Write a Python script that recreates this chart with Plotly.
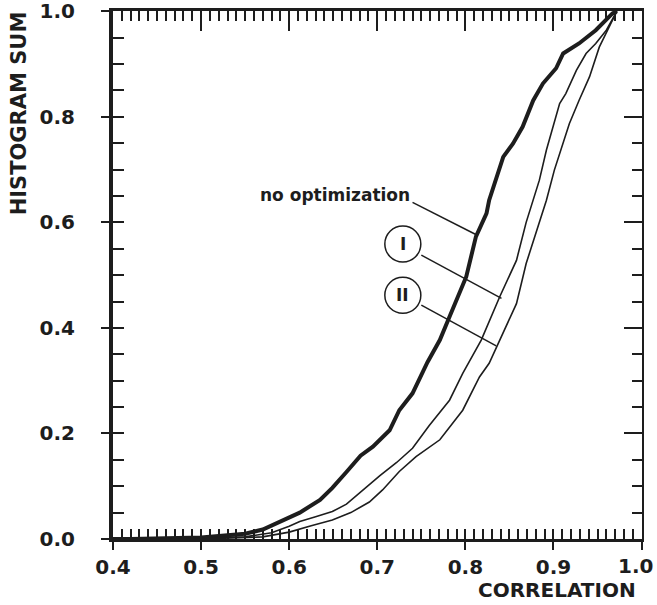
import plotly.graph_objects as go

# Cumulative histogram sums vs. correlation for three processing variants
x_noopt = [0.40, 0.42, 0.50, 0.55, 0.57, 0.585, 0.60, 0.612, 0.635, 0.649, 0.665, 0.681,
           0.695, 0.703, 0.714, 0.725, 0.740, 0.757, 0.771, 0.782, 0.801, 0.812, 0.824,
           0.827, 0.837, 0.843, 0.854, 0.865, 0.877, 0.888, 0.903, 0.911, 0.929, 0.948,
           0.967, 0.972]
y_noopt = [0.0, 0.0, 0.003, 0.010, 0.018, 0.030, 0.040, 0.050, 0.074, 0.097, 0.127, 0.158,
           0.175, 0.188, 0.206, 0.244, 0.276, 0.335, 0.377, 0.421, 0.497, 0.573, 0.617,
           0.642, 0.690, 0.724, 0.749, 0.781, 0.831, 0.863, 0.892, 0.920, 0.939, 0.964,
           0.996, 1.0]

x_opt1 = [0.40, 0.45, 0.55, 0.58, 0.60, 0.612, 0.630, 0.649, 0.665, 0.683, 0.703, 0.722,
          0.740, 0.759, 0.782, 0.797, 0.818, 0.839, 0.858, 0.869, 0.877, 0.884, 0.892,
          0.907, 0.914, 0.926, 0.937, 0.948, 0.960, 0.972]
y_opt1 = [0.0, 0.0, 0.004, 0.012, 0.024, 0.033, 0.042, 0.052, 0.066, 0.092, 0.120, 0.145,
          0.172, 0.215, 0.263, 0.314, 0.377, 0.459, 0.528, 0.600, 0.642, 0.680, 0.737,
          0.825, 0.844, 0.888, 0.920, 0.939, 0.964, 1.0]

x_opt2 = [0.40, 0.50, 0.57, 0.60, 0.625, 0.649, 0.670, 0.691, 0.706, 0.725, 0.744, 0.771,
          0.797, 0.816, 0.827, 0.839, 0.858, 0.869, 0.884, 0.892, 0.901, 0.907, 0.918,
          0.929, 0.941, 0.952, 0.960, 0.972]
y_opt2 = [0.0, 0.0, 0.004, 0.013, 0.025, 0.036, 0.050, 0.070, 0.093, 0.128, 0.156, 0.188,
          0.244, 0.307, 0.333, 0.377, 0.446, 0.522, 0.598, 0.642, 0.699, 0.730, 0.787,
          0.831, 0.876, 0.932, 0.958, 1.0]

x_ticks = [0.4, 0.5, 0.6, 0.7, 0.8, 0.9, 1.0]
y_ticks = [0.0, 0.2, 0.4, 0.6, 0.8, 1.0]
# the last x label sits at the right edge, so it is placed separately
x_ticktext = [f"{v:.1f}" for v in x_ticks[:-1]] + [""]
x_last_label = f"{x_ticks[-1]:.1f}"

X_RANGE = [0.4, 1.0005]
Y_RANGE = [0.0, 1.0005]

INK = "#1d1d1d"
FONT = "DejaVu Sans"
TICKFONT = dict(family=FONT, size=20, color=INK, weight="bold")

fig = go.Figure()
fig.add_trace(go.Scatter(x=x_noopt, y=y_noopt, mode="lines",
                         line=dict(color=INK, width=4), showlegend=False))
fig.add_trace(go.Scatter(x=x_opt1, y=y_opt1, mode="lines",
                         line=dict(color=INK, width=1.6), showlegend=False))
fig.add_trace(go.Scatter(x=x_opt2, y=y_opt2, mode="lines",
                         line=dict(color=INK, width=1.6), showlegend=False))
# placeholders so the extra tick axes are rendered
fig.add_trace(go.Scatter(x=[None], y=[None], xaxis="x2", yaxis="y2",
                         showlegend=False, hoverinfo="skip"))
fig.add_trace(go.Scatter(x=[None], y=[None], xaxis="x3", yaxis="y3",
                         showlegend=False, hoverinfo="skip"))

common = dict(showgrid=False, zeroline=False, tickcolor=INK, linecolor=INK, automargin=False)

fig.update_layout(
    width=657, height=605,
    margin=dict(l=113, r=15, t=11, b=66, autoexpand=False),
    paper_bgcolor="white", plot_bgcolor="white",
    xaxis=dict(range=X_RANGE, tickvals=x_ticks, ticktext=x_ticktext,
               ticks="outside", ticklen=8, tickwidth=2, ticklabeloverflow="allow",
               showline=True, linewidth=3, ticklabelstandoff=0,
               tickfont=TICKFONT, **common),
    xaxis3=dict(range=X_RANGE, overlaying="x", anchor="y", side="bottom",
                tick0=0.4, dtick=0.01, ticks="inside", ticklen=10, tickwidth=2,
                showticklabels=False, showline=False, **common),
    xaxis2=dict(range=X_RANGE, overlaying="x", anchor="y", side="top",
                tick0=0.4, dtick=0.1, ticks="inside", ticklen=20, tickwidth=2,
                minor=dict(ticks="inside", dtick=0.01, tick0=0.4, ticklen=10,
                           tickwidth=2, tickcolor=INK),
                showticklabels=False, showline=True, linewidth=3, **common),
    yaxis=dict(range=Y_RANGE, tickvals=y_ticks, ticktext=[f"{v:.1f}" for v in y_ticks],
               ticks="outside", ticklen=8, tickwidth=2, ticklabeloverflow="allow",
               showline=True, linewidth=4, ticklabelstandoff=22,
               tickfont=TICKFONT, **common),
    yaxis3=dict(range=Y_RANGE, overlaying="y", anchor="x", side="left",
                tick0=0, dtick=0.05, ticks="inside", ticklen=11, tickwidth=2,
                showticklabels=False, showline=False, **common),
    yaxis2=dict(range=Y_RANGE, overlaying="y", anchor="x", side="right",
                tick0=0, dtick=0.2, ticks="inside", ticklen=18, tickwidth=2,
                minor=dict(ticks="inside", dtick=0.05, tick0=0, ticklen=10,
                           tickwidth=2, tickcolor=INK),
                showticklabels=False, showline=True, linewidth=2, **common),
)

fig.add_annotation(text=x_last_label, xref="x", yref="paper", x=x_ticks[-1], y=-0.052,
                   xanchor="right", yanchor="middle", xshift=13, showarrow=False,
                   font=TICKFONT)

# axis titles
fig.add_annotation(text="HISTOGRAM SUM", xref="paper", yref="paper", x=-0.176, y=0.806,
                   textangle=-90, showarrow=False, xanchor="center", yanchor="middle",
                   font=dict(family=FONT, size=21, color=INK, weight="bold"))
fig.add_annotation(text="CORRELATION", xref="paper", yref="paper", x=0.839, y=-0.097,
                   showarrow=False, xanchor="center", yanchor="middle",
                   font=dict(family=FONT, size=20, color=INK, weight="bold"))

# curve labels with leader lines
fig.add_annotation(text="no optimization", x=0.739, y=0.652, xanchor="right", yanchor="middle",
                   showarrow=False, font=dict(family=FONT, size=17, color=INK, weight="bold"))
fig.add_shape(type="line", x0=0.740, y0=0.638, x1=0.813, y1=0.576,
              line=dict(color=INK, width=1.5))

for label, cy, (lx0, ly0, lx1, ly1) in [
    ("I", 0.559, (0.750, 0.538, 0.841, 0.456)),
    ("II", 0.462, (0.750, 0.443, 0.835, 0.366)),
]:
    fig.add_shape(type="circle", xref="x", yref="y", xsizemode="pixel", ysizemode="pixel",
                  xanchor=0.729, yanchor=cy, x0=-18, x1=18, y0=-18, y1=18,
                  line=dict(color=INK, width=1.5), fillcolor="white")
    fig.add_annotation(text=label, x=0.729, y=cy, showarrow=False,
                       xanchor="center", yanchor="middle",
                       font=dict(family=FONT, size=17, color=INK, weight="bold"))
    fig.add_shape(type="line", x0=lx0, y0=ly0, x1=lx1, y1=ly1,
                  line=dict(color=INK, width=1.5))

fig.write_html("out.html")
